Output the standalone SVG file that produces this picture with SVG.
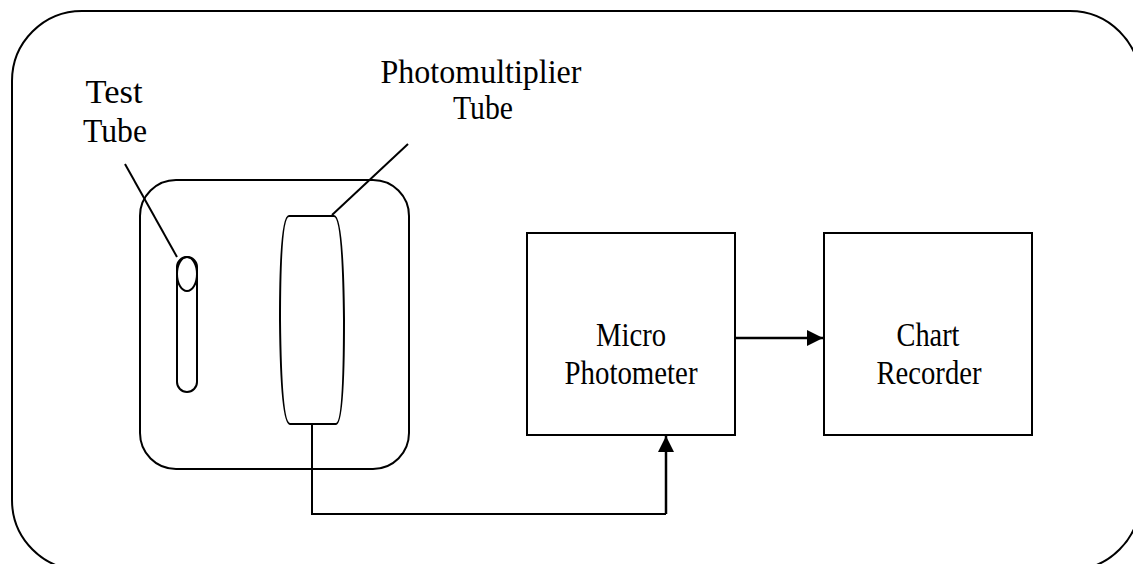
<svg xmlns="http://www.w3.org/2000/svg" width="1133" height="564" viewBox="0 0 1133 564">
<style>
.s{fill:none;stroke:#000;stroke-width:2}
.c{fill:none;stroke:#000;stroke-width:2.5}
.t{font-family:"Liberation Serif","Times New Roman",serif;font-size:34px;fill:#000;text-anchor:middle}
</style>
<defs>
<marker id="ah" viewBox="0 0 10 10" refX="10" refY="5" markerWidth="16" markerHeight="16" markerUnits="userSpaceOnUse" orient="auto">
<path d="M0,0 L10,5 L0,10 z" fill="#000"/>
</marker>
</defs>
<rect width="1133" height="564" fill="#fff"/>
<g id="frame"><rect class="s" x="12" y="11" width="1128" height="559" rx="70" ry="70"/></g>
<g id="holder"><rect class="s" x="140" y="180" width="269" height="289" rx="36" ry="36"/></g>
<g id="testtube">
<rect class="s" x="177" y="257" width="20" height="135" rx="10" ry="10"/>
<ellipse class="s" cx="187" cy="274" rx="10" ry="17"/>
</g>
<g id="pmt">
<path class="s" d="M289,216 L334,216 Q343,216 344,320 Q344,424 336,424 L290,424 Q281,424 280,320 Q280,216 289,216 Z"/>
</g>
<g id="labels">
<text class="t" x="114" y="103" textLength="57" lengthAdjust="spacingAndGlyphs">Test</text>
<text class="t" x="115" y="142" textLength="64" lengthAdjust="spacingAndGlyphs">Tube</text>
<text class="t" x="481" y="83" textLength="201" lengthAdjust="spacingAndGlyphs">Photomultiplier</text>
<text class="t" x="483" y="119" textLength="60" lengthAdjust="spacingAndGlyphs">Tube</text>
</g>
<g id="micro">
<rect class="s" x="527" y="233" width="208" height="202"/>
<text class="t" x="631" y="346" textLength="70" lengthAdjust="spacingAndGlyphs">Micro</text>
<text class="t" x="631" y="384" textLength="133" lengthAdjust="spacingAndGlyphs">Photometer</text>
</g>
<g id="chart">
<rect class="s" x="824" y="233" width="208" height="202"/>
<text class="t" x="928" y="346" textLength="63" lengthAdjust="spacingAndGlyphs">Chart</text>
<text class="t" x="929" y="384" textLength="105" lengthAdjust="spacingAndGlyphs">Recorder</text>
</g>
<g id="connectors">
<line class="s" x1="125" y1="164" x2="177" y2="257"/>
<line class="s" x1="332" y1="215" x2="408" y2="144"/>
<polyline class="s" points="312,424 312,514 666,514" />
<line class="c" x1="666" y1="514" x2="666" y2="436" marker-end="url(#ah)"/>
<line class="c" x1="735" y1="338" x2="823" y2="338" marker-end="url(#ah)"/>
</g>
</svg>
